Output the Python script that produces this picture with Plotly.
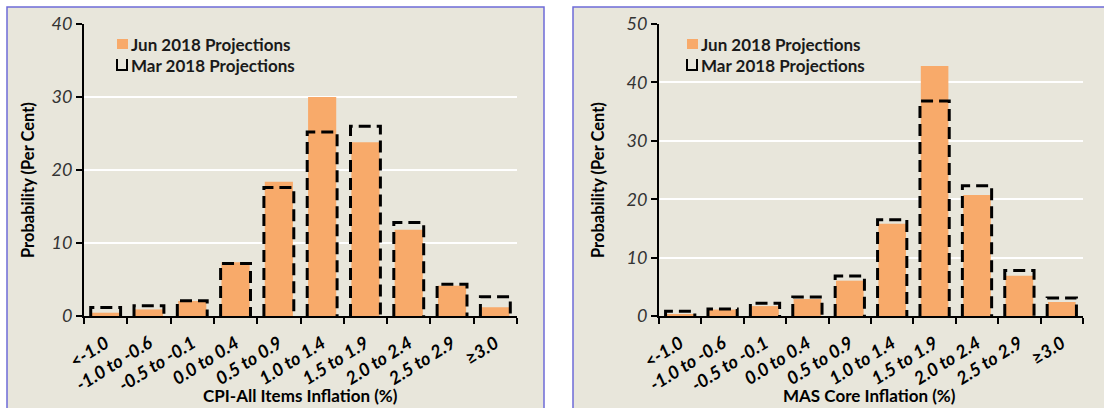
import plotly.graph_objects as go

categories = ["<-1.0", "-1.0 to -0.6", "-0.5 to -0.1", "0.0 to 0.4", "0.5 to 0.9",
              "1.0 to 1.4", "1.5 to 1.9", "2.0 to 2.4", "2.5 to 2.9", "\u22653.0"]
cpi_jun = [0.45, 0.9, 2.05, 7.35, 18.4, 30.0, 23.8, 11.8, 4.15, 1.2]
cpi_mar = [1.15, 1.4, 2.1, 7.2, 17.6, 25.2, 26.0, 12.8, 4.35, 2.65]
core_jun = [0.25, 1.1, 1.7, 2.9, 6.05, 15.8, 42.8, 20.7, 6.9, 2.4]
core_mar = [0.8, 1.2, 2.2, 3.25, 6.85, 16.5, 36.8, 22.3, 7.8, 3.1]
left_ticks = [0, 10, 20, 30, 40]
right_ticks = [0, 10, 20, 30, 40, 50]

W, H = 1104, 408
ORANGE = "#F8AA6A"
BG = "#E8E6DB"
BORDER = "#6E6BD8"
FONT = "Lato"

def px(x):
    return x / W

def py(y):
    return 1 - y / H

xs = list(range(len(categories)))

def outline(values, half=0.345):
    ox, oy = [], []
    for i, v in enumerate(values):
        ox += [i - half, i - half, i + half, i + half, None]
        oy += [0, v, v, 0, None]
    return ox, oy

fig = go.Figure()
panels = [("x", "y", cpi_jun, cpi_mar), ("x2", "y2", core_jun, core_mar)]
for xa, ya, jun, mar in panels:
    fig.add_trace(go.Bar(x=xs, y=jun, width=0.65, marker=dict(color=ORANGE, line=dict(width=0)),
                         xaxis=xa, yaxis=ya, showlegend=False, name="Jun 2018 Projections"))
    ox, oy = outline(mar)
    fig.add_trace(go.Scatter(x=ox, y=oy, mode="lines", xaxis=xa, yaxis=ya, showlegend=False,
                             line=dict(color="black", width=3, dash="12px,6px"),
                             name="Mar 2018 Projections"))

ydom = [py(316), py(24)]
xaxis_common = dict(
    range=[-0.5, 9.5], tickmode="array", tickvals=xs, ticktext=categories, ticks="",
    tickangle=-32, showgrid=False, zeroline=False, showline=True, linecolor="black", linewidth=2,
    tickfont=dict(family=FONT, size=18, color="black", weight="bold", style="italic"),
    ticklabelstandoff=8,
    minor=dict(ticks="outside", tick0=-0.5, dtick=1, ticklen=6, tickwidth=2, tickcolor="black", showgrid=False),
    automargin=False, fixedrange=True,
)
yaxis_common = dict(
    domain=ydom, tickmode="array", showgrid=True, gridcolor="white", gridwidth=2,
    zeroline=False, showline=True, linecolor="black", linewidth=2, ticks="outside", ticklen=6,
    tickwidth=2, tickcolor="black", automargin=False, fixedrange=True,
    tickfont=dict(family=FONT, size=18, color="#333333", style="italic"),
)
fig.update_layout(
    width=W, height=H, margin=dict(l=0, r=0, t=0, b=0, autoexpand=False),
    paper_bgcolor="white", plot_bgcolor=BG, bargap=0.35,
    xaxis=dict(domain=[px(84), px(517)], anchor="y", **xaxis_common),
    xaxis2=dict(domain=[px(659), px(1083)], anchor="y2", **xaxis_common),
    yaxis=dict(range=[0, 40], tickvals=left_ticks, anchor="x", **yaxis_common),
    yaxis2=dict(range=[0, 50], tickvals=right_ticks, anchor="x2", **yaxis_common),
)

shapes = [
    dict(type="rect", xref="paper", yref="paper", x0=px(7), x1=px(544), y0=py(420), y1=py(7),
         fillcolor=BG, line=dict(color=BORDER, width=1.5), layer="below"),
    dict(type="rect", xref="paper", yref="paper", x0=px(573), x1=px(1110), y0=py(420), y1=py(7),
         fillcolor=BG, line=dict(color=BORDER, width=1.5), layer="below"),
]
annotations = []
legend_font = dict(family=FONT, size=17, color="#1a1a1a", weight="bold")
title_font = dict(family=FONT, size=17, color="black", weight="bold")
ytitle_font = dict(family=FONT, size=16.5, color="black", weight="bold")
for lx in (117, 687):
    shapes.append(dict(type="rect", xref="paper", yref="paper", x0=px(lx), x1=px(lx + 11),
                       y0=py(49), y1=py(39), fillcolor=ORANGE, line=dict(width=0)))
    shapes.append(dict(type="path", xref="paper", yref="paper",
                       path=f"M {px(lx)},{py(59)} L {px(lx)},{py(70)} L {px(lx + 10)},{py(70)} L {px(lx + 10)},{py(59)}",
                       line=dict(color="black", width=2)))
    annotations.append(dict(x=px(lx + 12), y=py(44), xref="paper", yref="paper", xanchor="left",
                            yanchor="middle", text="Jun 2018 Projections", showarrow=False, font=legend_font))
    annotations.append(dict(x=px(lx + 12), y=py(66), xref="paper", yref="paper", xanchor="left",
                            yanchor="middle", text="Mar 2018 Projections", showarrow=False, font=legend_font))

annotations += [
    dict(x=px(300), y=py(395), xref="paper", yref="paper", text="CPI-All Items Inflation (%)",
         showarrow=False, font=title_font, xanchor="center", yanchor="middle"),
    dict(x=px(870), y=py(395), xref="paper", yref="paper", text="MAS Core Inflation (%)",
         showarrow=False, font=title_font, xanchor="center", yanchor="middle"),
    dict(x=px(28), y=py(180), xref="paper", yref="paper", text="Probability (Per Cent)", textangle=-90,
         showarrow=False, font=ytitle_font, xanchor="center", yanchor="middle"),
    dict(x=px(598), y=py(180), xref="paper", yref="paper", text="Probability (Per Cent)", textangle=-90,
         showarrow=False, font=ytitle_font, xanchor="center", yanchor="middle"),
]
fig.update_layout(shapes=shapes, annotations=annotations)
fig.write_html("out.html", config={"displayModeBar": False},
               post_script="document.body.style.margin='0';document.body.style.overflow='hidden';")
